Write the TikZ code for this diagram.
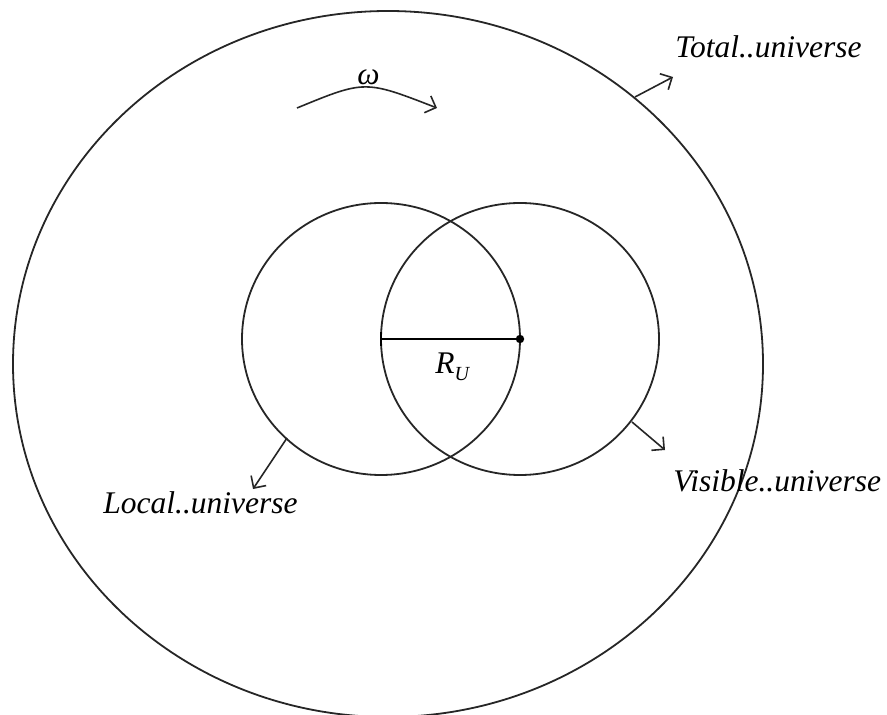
\documentclass[tikz,border=0pt]{standalone}
\usepackage{fontspec}
\setmainfont{Liberation Serif}
\usetikzlibrary{arrows.meta}

\begin{document}
\begin{tikzpicture}[x=0.5pt, y=-0.5pt,
    ring/.style={draw=black!85, line width=0.9pt},
    pointer/.style={draw=black!85, line width=0.8pt, -{Straight Barb[length=4.5pt, width=9pt]}},
    tag/.style={font=\fontsize{15.75}{18}\selectfont\itshape, inner sep=0pt, anchor=base west}]
  \useasboundingbox (0,0) rectangle (887,715);
  \clip (0,0) rectangle (887,715);
  % universes
  \draw[ring] (388,364) ellipse [x radius=375, y radius=353];
  \draw[ring] (381,339) ellipse [x radius=139, y radius=136];
  \draw[ring] (520,339) ellipse [x radius=139, y radius=136];
  % radius
  \coordinate (cl) at (381,339);
  \coordinate (cr) at (520,339);
  \draw[line width=1pt] (cl) -- (cr);
  \draw[line width=0.8pt] ([yshift=-3.5pt]cl) -- ([yshift=3.5pt]cl);
  \fill (cr) circle [radius=2.1pt];
  \node[tag] (ru) at (435,373) {R\raisebox{-3.5pt}{\fontsize{10}{12}\selectfont U}};
  % rotation
  \coordinate (wa) at (297,108);
  \coordinate (wb) at (437,108);
  \draw[pointer] (wa) .. controls (365,80) .. (wb);
  \node[tag] (omega) at (357,85) {ω};
  % labels
  \node[tag] (total) at (675,58) {Total..universe};
  \node[tag] (visible) at (673,491) {Visible..universe};
  \node[tag] (local) at (103,513) {Local..universe};
  \coordinate (t0) at (635,97);
  \coordinate (t1) at (673,77);
  \coordinate (l0) at (287,438);
  \coordinate (l1) at (253,489);
  \coordinate (v0) at (632,422);
  \coordinate (v1) at (665,450);
  \draw[pointer] (t0) -- (t1);
  \draw[pointer] (l0) -- (l1);
  \draw[pointer] (v0) -- (v1);
\end{tikzpicture}
\end{document}
